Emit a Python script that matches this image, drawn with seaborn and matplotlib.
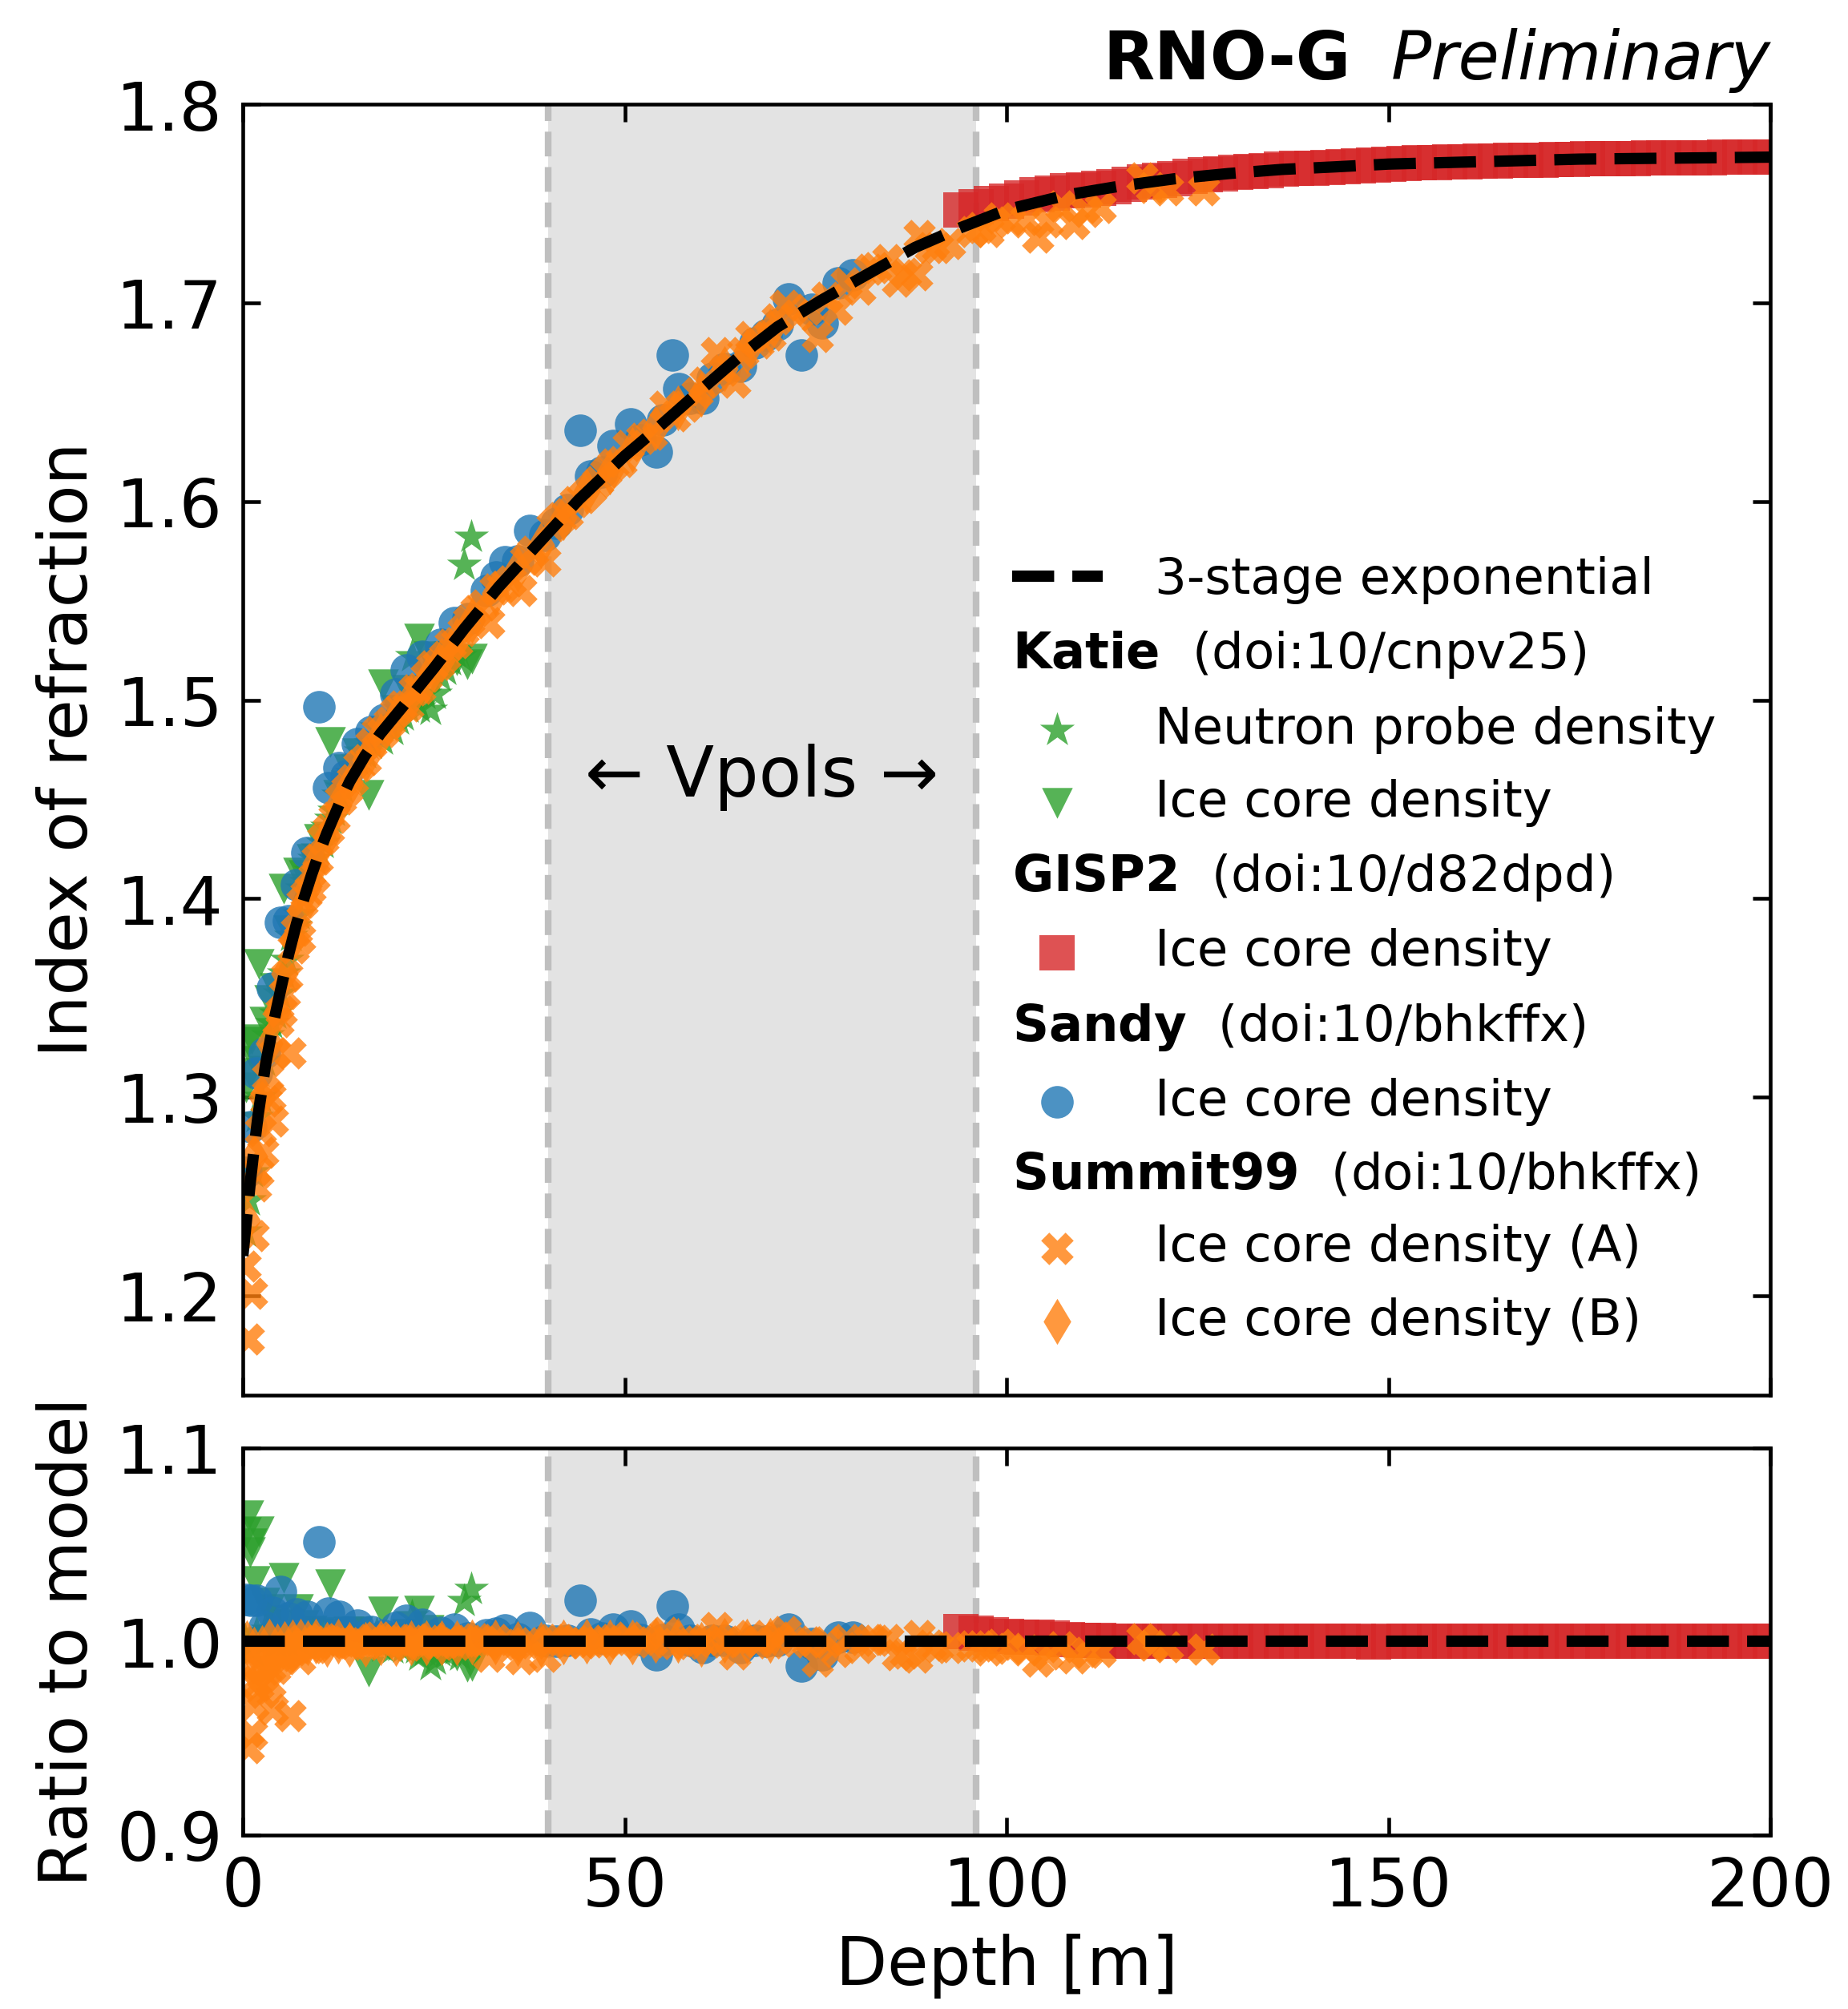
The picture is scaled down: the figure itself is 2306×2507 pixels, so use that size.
import numpy as np
import matplotlib
matplotlib.use("Agg")
import matplotlib.pyplot as plt
from matplotlib.lines import Line2D
import seaborn as sns

# 3-stage exponential model
MODEL_DEPTH = [0.0, 0.5, 1.0, 1.5, 2.0, 3.0, 4.0, 5.0, 6.0, 7.0, 8.0, 9.0, 10.0, 11.0, 12.0, 13.0,
               14.0, 16.0, 18.0, 21.0, 25.0, 29.0, 33.5, 38.5, 44.0, 50.0, 54.0, 59.0, 65.0, 70.0,
               76.0, 82.0, 88.0, 94.0, 100.0, 108.0, 115.0, 122.0, 129.0, 136.0, 143.0, 150.0,
               175.0, 200.0]
MODEL_N = [1.220, 1.239, 1.258, 1.275, 1.291, 1.317, 1.337, 1.355, 1.372, 1.387, 1.400, 1.412,
           1.423, 1.433, 1.442, 1.451, 1.459, 1.472, 1.483, 1.497, 1.516, 1.536, 1.557, 1.578,
           1.601, 1.623, 1.636, 1.653, 1.673, 1.688, 1.702, 1.715, 1.728, 1.738, 1.747, 1.7545,
           1.759, 1.7626, 1.7652, 1.7673, 1.7686, 1.770, 1.7725, 1.7735]

# Katie - neutron probe density
KATIE_NP_DEPTH = [0.3, 0.8, 1.3, 1.8, 2.3, 2.8, 3.3, 3.8, 4.3, 4.8, 5.3, 5.8, 6.3, 6.8, 7.3, 7.8,
                  8.3, 8.8, 9.3, 9.8, 10.5, 11.0, 11.5, 12.0, 12.5, 13.0, 13.7, 14.3, 15.0, 15.4,
                  16.0, 16.8, 17.5, 18.2, 19.0, 19.6, 20.3, 21.0, 21.6, 22.1, 22.7, 23.1, 23.8,
                  24.5, 25.2, 25.8, 26.5, 27.2, 27.8, 28.4, 29.0, 29.9]
KATIE_NP_N = [1.232, 1.248, 1.262, 1.290, 1.300, 1.318, 1.331, 1.337, 1.342, 1.352, 1.362, 1.369,
              1.381, 1.386, 1.392, 1.405, 1.408, 1.414, 1.420, 1.425, 1.428, 1.436, 1.440, 1.444,
              1.452, 1.456, 1.462, 1.463, 1.470, 1.474, 1.473, 1.478, 1.486, 1.480, 1.489, 1.485,
              1.490, 1.492, 1.496, 1.522, 1.500, 1.496, 1.503, 1.495, 1.503, 1.512, 1.515, 1.520,
              1.524, 1.522, 1.568, 1.582]

# Katie - ice core density
KATIE_IC_DEPTH = [0.4, 0.7, 0.9, 1.2, 1.6, 2.1, 2.8, 3.5, 4.2, 5.3, 6.0, 7.2, 8.0, 9.0, 10.0,
                  11.4, 12.5, 13.8, 15.0, 16.5, 18.4, 20.0, 21.5, 23.1, 24.3, 25.5, 27.0, 28.0,
                  29.4, 30.0]
KATIE_IC_N = [1.305, 1.328, 1.312, 1.329, 1.318, 1.367, 1.338, 1.349, 1.355, 1.405, 1.384, 1.413,
              1.412, 1.420, 1.430, 1.479, 1.452, 1.465, 1.473, 1.452, 1.508, 1.495, 1.505, 1.531,
              1.522, 1.512, 1.522, 1.520, 1.518, 1.521]

# GISP2 - ice core density
GISP2_DEPTH = [94, 96, 98, 100, 102, 104, 106, 108, 110, 112, 114, 116, 118, 120, 122, 124, 126,
               128, 130, 132, 134, 136, 138, 140, 142, 144, 146, 148, 150, 152, 154, 156, 158,
               160, 162, 164, 166, 168, 170, 172, 174, 176, 178, 180, 182, 184, 186, 188, 190,
               192, 194, 196, 198, 200]
GISP2_N = [1.747, 1.7485, 1.750, 1.7515, 1.753, 1.7545, 1.7555, 1.7565, 1.757, 1.7578, 1.7585,
           1.7597, 1.761, 1.762, 1.7628, 1.7637, 1.7645, 1.765, 1.7657, 1.7663, 1.7668, 1.7673,
           1.7677, 1.768, 1.7684, 1.7688, 1.7692, 1.7695, 1.770, 1.7703, 1.7705, 1.7707, 1.771,
           1.7712, 1.7714, 1.7716, 1.7718, 1.772, 1.7721, 1.7723, 1.7724, 1.7726, 1.7727,
           1.7728, 1.7729, 1.773, 1.7731, 1.7732, 1.7732, 1.7733, 1.7734, 1.7734, 1.7735, 1.7735]

# Sandy - ice core density
SANDY_DEPTH = [0.4, 1.0, 1.8, 2.8, 3.9, 4.9, 6.0, 7.0, 8.4, 10.0, 11.2, 12.6, 13.5, 15.0, 16.8,
               18.5, 20.0, 21.4, 23.5, 25.9, 27.7, 29.5, 31.9, 33.1, 34.3, 36.0, 37.6, 39.5, 41.0,
               42.5, 44.2, 45.5, 47.0, 48.5, 50.8, 52.0, 54.1, 55.0, 56.2, 57.1, 58.5, 60.2, 61.5,
               63.0, 65.1, 67.0, 68.5, 70.0, 71.4, 73.1, 74.5, 75.9, 78.0, 79.8]
SANDY_N = [1.262, 1.285, 1.312, 1.322, 1.355, 1.388, 1.389, 1.407, 1.423, 1.4965, 1.456, 1.466,
           1.462, 1.478, 1.484, 1.490, 1.503, 1.515, 1.522, 1.528, 1.539, 1.541, 1.555, 1.562,
           1.5695, 1.570, 1.5853, 1.583, 1.589, 1.596, 1.636, 1.613, 1.615, 1.628, 1.639, 1.631,
           1.625, 1.641, 1.674, 1.657, 1.652, 1.652, 1.662, 1.667, 1.668, 1.680, 1.684, 1.689,
           1.702, 1.674, 1.697, 1.690, 1.710, 1.714]

# Summit99 - ice core density (A)
SUMMIT_A_DEPTH = [0.3, 0.7, 1.1, 1.4, 1.7, 2.0, 2.3, 2.6, 3.0, 3.3, 3.6, 3.9, 4.2, 4.6, 5.0, 5.4,
                  5.8, 6.2, 6.6, 7.0, 7.4, 7.8, 8.3, 8.8, 9.3, 9.8, 10.5, 11.2, 12.0, 12.8, 13.6,
                  14.4, 15.2, 16.0, 16.8, 17.6, 18.4, 19.2, 20.0, 20.8, 21.6, 22.4, 23.2, 24.0,
                  24.8, 25.6, 26.4, 27.2, 28.0, 28.8, 29.6, 30.5, 31.5, 32.2, 33.0, 34.0, 35.0,
                  36.4, 37.0, 38.0, 39.5, 40.5, 41.5, 42.5, 43.5, 44.5, 45.5, 46.5, 47.5, 48.5,
                  49.5, 50.5, 52.2, 53.5, 55.3, 56.5, 58.0, 59.5, 60.5, 62.0, 63.0, 64.4, 65.5,
                  66.5, 67.5, 69.0, 70.0, 71.0, 72.5, 74.0, 75.2, 76.5, 77.7, 79.0, 80.8, 82.0,
                  82.9, 84.5, 85.7, 86.8, 88.2, 88.5, 90.0, 91.0, 92.5, 95.5, 96.5, 97.6, 99.0,
                  100.4, 102.5, 104.1, 105.3, 107.1, 108.8, 110.5, 112.3, 117.7, 119.0, 121.1,
                  125.8]
SUMMIT_A_N = [1.215, 1.178, 1.201, 1.230, 1.255, 1.262, 1.283, 1.272, 1.298, 1.310, 1.300, 1.288,
              1.322, 1.338, 1.343, 1.352, 1.361, 1.322, 1.375, 1.384, 1.380, 1.398, 1.402, 1.405,
              1.411, 1.420, 1.430, 1.435, 1.441, 1.450, 1.455, 1.460, 1.467, 1.470, 1.478, 1.484,
              1.484, 1.489, 1.494, 1.497, 1.497, 1.505, 1.506, 1.512, 1.517, 1.518, 1.522, 1.528,
              1.529, 1.535, 1.540, 1.545, 1.548, 1.539, 1.556, 1.557, 1.560, 1.555, 1.571, 1.575,
              1.570, 1.588, 1.592, 1.594, 1.600, 1.602, 1.606, 1.610, 1.615, 1.619, 1.620, 1.628,
              1.632, 1.634, 1.648, 1.643, 1.648, 1.655, 1.660, 1.675, 1.666, 1.660, 1.675, 1.683,
              1.680, 1.684, 1.692, 1.699, 1.694, 1.697, 1.683, 1.703, 1.697, 1.710, 1.707, 1.717,
              1.718, 1.722, 1.711, 1.715, 1.714, 1.734, 1.728, 1.728, 1.730, 1.736, 1.738, 1.736,
              1.743, 1.741, 1.742, 1.733, 1.741, 1.749, 1.740, 1.746, 1.748, 1.763, 1.758, 1.757,
              1.757]

# Summit99 - ice core density (B)
SUMMIT_B_DEPTH = [0.5, 1.5, 2.5, 3.5, 4.5, 5.5, 6.5, 7.5, 8.5, 9.5, 11.0, 12.5, 14.0, 16.0, 18.0,
                  20.0, 22.0, 24.0, 26.0, 28.0, 30.0, 33.0, 36.0, 39.0, 42.0, 45.0, 48.0, 51.0,
                  54.0, 57.0, 60.0, 63.0, 66.0, 69.0]
SUMMIT_B_N = [1.238, 1.270, 1.300, 1.327, 1.343, 1.362, 1.379, 1.394, 1.405, 1.418, 1.431, 1.447,
              1.457, 1.470, 1.482, 1.491, 1.501, 1.510, 1.520, 1.530, 1.540, 1.554, 1.566, 1.578,
              1.592, 1.605, 1.615, 1.626, 1.637, 1.647, 1.654, 1.667, 1.676, 1.686]

VPOL_RANGE = (40, 96)

C_BLUE, C_ORANGE, C_GREEN, C_RED = "#1f77b4", "#ff7f0e", "#2ca02c", "#d62728"

sns.set_style("ticks")
plt.rcParams["font.family"] = ["DejaVu Sans"]
plt.rcParams["mathtext.fontset"] = "dejavusans"
for key in ("text.color", "axes.labelcolor", "xtick.color", "ytick.color", "axes.edgecolor"):
    plt.rcParams[key] = "black"

DPI = 300
fig = plt.figure(figsize=(2306.2 / DPI, 2507.2 / DPI), dpi=DPI)
ax = fig.add_axes([0.1314, 0.3057, 0.8266, 0.6422])
axr = fig.add_axes([0.1314, 0.0866, 0.8266, 0.1926], sharex=ax)

model_d = np.array(MODEL_DEPTH)
model_n = np.array(MODEL_N)

series = [
    ("Neutron probe density", KATIE_NP_DEPTH, KATIE_NP_N, C_GREEN, "*", 120),
    ("Ice core density", KATIE_IC_DEPTH, KATIE_IC_N, C_GREEN, "v", 85),
    ("Ice core density", GISP2_DEPTH, GISP2_N, C_RED, "s", 110),
    ("Ice core density", SANDY_DEPTH, SANDY_N, C_BLUE, "o", 95),
    ("Ice core density (A)", SUMMIT_A_DEPTH, SUMMIT_A_N, C_ORANGE, "X", 95),
    ("Ice core density (B)", SUMMIT_B_DEPTH, SUMMIT_B_N, C_ORANGE, "d", 95),
]

for a in (ax, axr):
    a.axvspan(*VPOL_RANGE, color="0.89", lw=0, zorder=0)
    for xv in VPOL_RANGE:
        a.axvline(xv, color="0.75", ls="--", lw=2.0, zorder=1)

handles = []
for label, d, n, col, mk, size in series:
    d = np.array(d)
    n = np.array(n)
    ratio = n / np.interp(d, model_d, model_n)
    sns.scatterplot(x=d, y=n, ax=ax, color=col, marker=mk, s=size, alpha=0.8,
                    linewidth=0, zorder=2)
    handles.append(ax.collections[-1])
    sns.scatterplot(x=d, y=ratio, ax=axr, color=col, marker=mk, s=size, alpha=0.8,
                    linewidth=0, zorder=2)

model_line, = ax.plot(model_d, model_n, color="black", ls="--", lw=3.4, zorder=3)
axr.axhline(1.0, color="black", ls="--", lw=3.4, zorder=3)

ax.set_xlim(0, 200)
ax.set_ylim(1.15, 1.8)
axr.set_ylim(0.9, 1.1)
ax.set_yticks([1.2, 1.3, 1.4, 1.5, 1.6, 1.7, 1.8])
axr.set_yticks([0.9, 1.0, 1.1])
axr.set_xticks([0, 50, 100, 150, 200])
ax.tick_params(labelbottom=False)

for a in (ax, axr):
    a.tick_params(direction="in", top=True, right=True, length=5.3, width=1.1,
                  labelsize=20, pad=6)
    for sp in a.spines.values():
        sp.set_linewidth(1.1)
    a.set_xlabel("")

ax.set_ylabel("Index of refraction", fontsize=20)
axr.set_ylabel("Ratio to model", fontsize=20)
axr.set_xlabel("Depth [m]", fontsize=20)
ax.yaxis.set_label_coords(-0.093, 0.5)
axr.yaxis.set_label_coords(-0.093, 0.5)

ax.text(68, 1.461, "\u2190 Vpols \u2192", ha="center", va="center", fontsize=21)

prelim = ax.annotate("Preliminary", xy=(1, 1), xycoords="axes fraction", xytext=(0, 3.5),
                     textcoords="offset points", ha="right", va="bottom", fontsize=20,
                     style="italic")
ax.annotate("RNO-G", xy=(0, 0), xycoords=prelim, xytext=(-12, 0), textcoords="offset points",
            ha="right", va="bottom", fontsize=20, weight="bold")

blank = Line2D([], [], ls="none")
leg_handles = [model_line, blank, handles[0], handles[1], blank, handles[2], blank, handles[3],
               blank, handles[4], handles[5]]
leg_labels = ["3-stage exponential",
              r"$\bf{Katie}$  (doi:10/cnpv25)", series[0][0], series[1][0],
              r"$\bf{GISP2}$  (doi:10/d82dpd)", series[2][0],
              r"$\bf{Sandy}$  (doi:10/bhkffx)", series[3][0],
              r"$\bf{Summit99}$  (doi:10/bhkffx)", series[4][0], series[5][0]]
hl, hp, fs = 1.8, 1.05, 15
leg = ax.legend(leg_handles, leg_labels, loc="upper left", bbox_to_anchor=(0.5037, 0.650),
                frameon=False, fontsize=fs, handlelength=hl, handletextpad=hp,
                labelspacing=0.50, borderpad=0, borderaxespad=0)
shift = (hl + hp) * fs * DPI / 72.0
for i, t in enumerate(leg.get_texts()):
    if leg_handles[i] is blank:
        t.set_x(-shift)

fig.savefig("out.png", dpi=DPI)
